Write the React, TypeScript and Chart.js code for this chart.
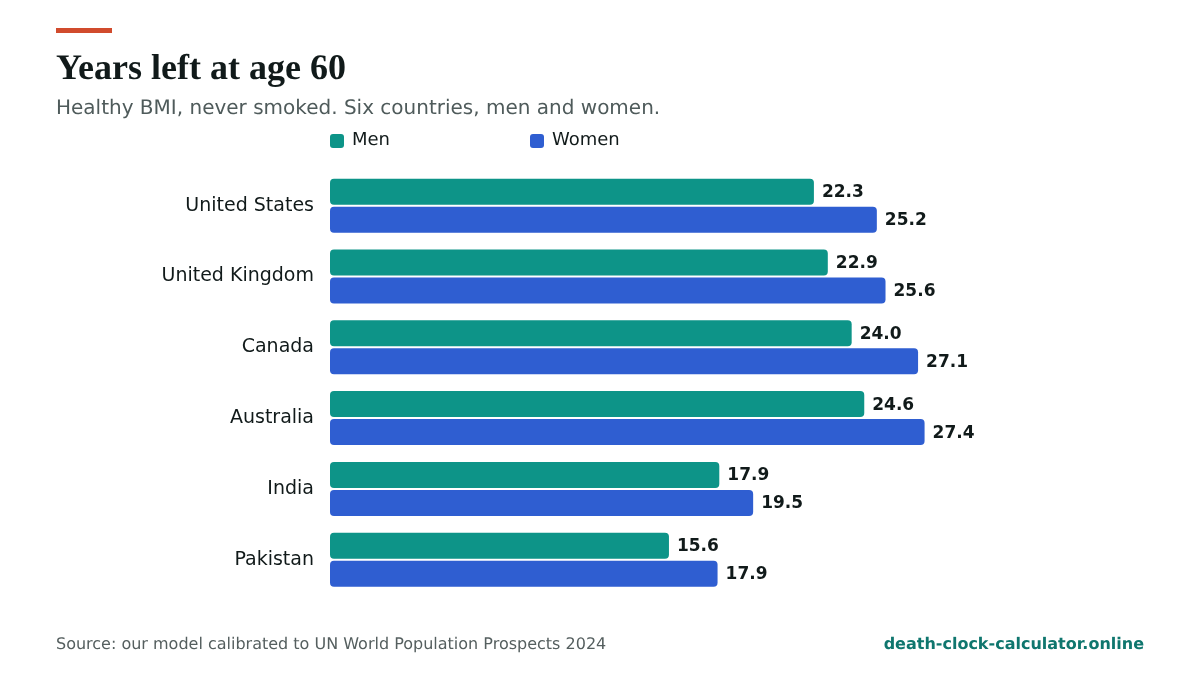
import { useEffect, useRef } from 'react';
import { Chart, registerables } from 'chart.js';

Chart.register(...registerables);

const countries = ['United States', 'United Kingdom', 'Canada', 'Australia', 'India', 'Pakistan'];
const men = [22.3, 22.94, 24.04, 24.62, 17.94, 15.62];
const women = [25.2, 25.6, 27.1, 27.4, 19.5, 17.86];
const seriesNames = ['Men', 'Women'];
const seriesColors = ['#0d9488', '#2f5ed1'];

const sans = '"DejaVu Sans", sans-serif';

// value labels at the end of each bar
const valueLabels = {
  id: 'valueLabels',
  afterDatasetsDraw(chart: Chart) {
    const { ctx } = chart;
    ctx.save();
    ctx.font = `bold 17px ${sans}`;
    ctx.fillStyle = '#111a1a';
    ctx.textAlign = 'left';
    ctx.textBaseline = 'middle';
    chart.data.datasets.forEach((ds, i) => {
      chart.getDatasetMeta(i).data.forEach((bar, j) => {
        ctx.fillText((ds.data[j] as number).toFixed(1), bar.x + 8, bar.y + 1);
      });
    });
    ctx.restore();
  }
};

const textStyle = (left: number, top: number, extra: React.CSSProperties): React.CSSProperties => ({
  position: 'absolute',
  left,
  top,
  whiteSpace: 'nowrap',
  fontFamily: sans,
  textRendering: 'geometricPrecision',
  ...extra
});

export default function App() {
  const canvasRef = useRef<HTMLCanvasElement>(null);

  useEffect(() => {
    document.body.style.margin = '0';
    const chart = new Chart(canvasRef.current!, {
      type: 'bar',
      data: {
        labels: countries,
        datasets: [
          { label: seriesNames[0], data: men, backgroundColor: seriesColors[0] },
          { label: seriesNames[1], data: women, backgroundColor: seriesColors[1] }
        ]
      },
      options: {
        indexAxis: 'y',
        responsive: false,
        animation: false,
        layout: { padding: { top: 170.3, bottom: 79.9, left: 0, right: 219 } },
        categoryPercentage: 0.791,
        barPercentage: 0.9286,
        borderRadius: 4,
        borderSkipped: false,
        plugins: { legend: { display: false }, tooltip: { enabled: false } },
        scales: {
          x: { display: false, min: 0, max: 30 },
          y: {
            afterFit: (scale: any) => { scale.width = 330; },
            grid: { display: false },
            border: { display: false },
            ticks: { color: '#111a1a', font: { size: 19, family: sans }, padding: 8, z: 1, textStrokeWidth: 0 },
            afterTickToLabelConversion: undefined
          }
        }
      } as any,
      plugins: [valueLabels]
    });
    return () => chart.destroy();
  }, []);

  return (
    <div style={{ position: 'relative', width: 1200, height: 675, background: '#ffffff', overflow: 'hidden' }}>
      <canvas ref={canvasRef} width={1200} height={675} style={{ position: 'absolute', left: 0, top: 0, display: 'block' }} />
      <div style={{ position: 'absolute', left: 56, top: 28, width: 56, height: 5, background: '#d14b2d' }} />
      <div style={textStyle(56, 46, { fontFamily: '"Liberation Serif", serif', fontWeight: 700, fontSize: 36, lineHeight: '42px', color: '#111a1a' })}>
        Years left at age 60
      </div>
      <div style={textStyle(56, 95, { fontSize: 20, lineHeight: '24px', color: '#4f5b5b' })}>
        Healthy BMI, never smoked. Six countries, men and women.
      </div>
      {seriesNames.map((name, i) => (
        <div key={name}>
          <div style={{ position: 'absolute', left: 330 + i * 200, top: 134, width: 14, height: 14, borderRadius: 3, background: seriesColors[i] }} />
          <div style={textStyle(352 + i * 200, 129, { fontSize: 18, lineHeight: '22px', color: '#111a1a' })}>{name}</div>
        </div>
      ))}
      <div style={textStyle(56, 634, { fontSize: 16, lineHeight: '20px', color: '#555f5f' })}>
        Source: our model calibrated to UN World Population Prospects 2024
      </div>
      <div style={{ ...textStyle(0, 634, { fontSize: 16, lineHeight: '20px', fontWeight: 700, color: '#0f766e' }), left: 'auto', right: 56 }}>
        death-clock-calculator.online
      </div>
    </div>
  );
}
